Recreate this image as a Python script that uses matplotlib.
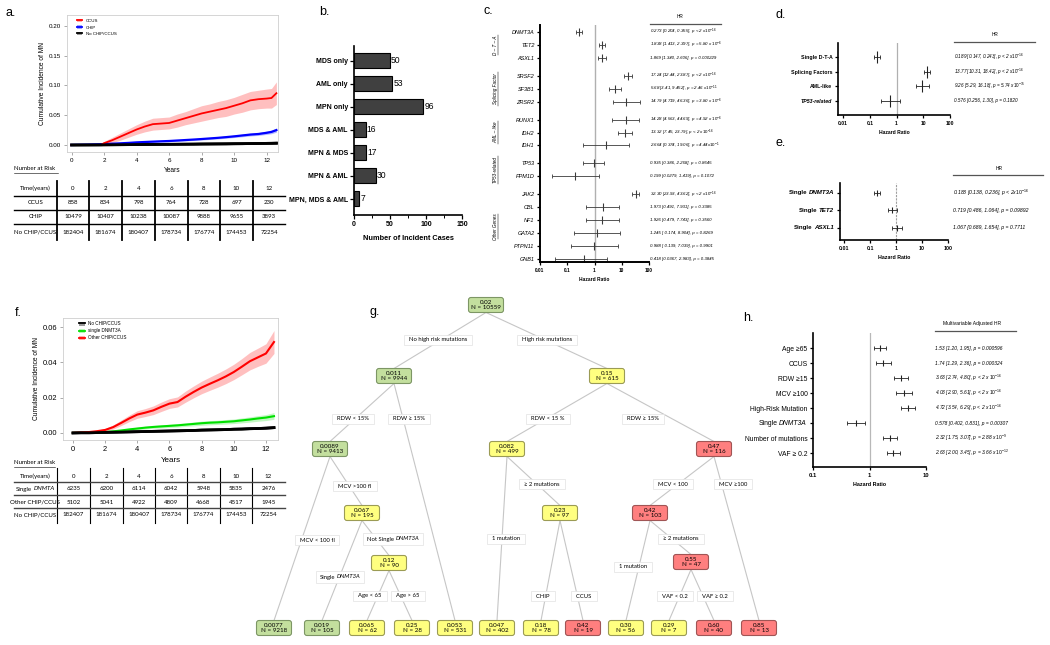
import matplotlib

matplotlib.use("Agg")
import matplotlib.pyplot as plt
from matplotlib.lines import Line2D
from matplotlib.offsetbox import AnnotationBbox, HPacker, TextArea
from matplotlib.patches import FancyBboxPatch, Patch
from matplotlib.transforms import blended_transform_factory

# ---------------- data ----------------
# a. cumulative incidence of MN by CHIP / CCUS status
a_years = [0, 1.0, 1.8, 2.0, 2.5, 3.0, 3.5, 4.0, 4.5, 5.0, 5.5, 6.0, 6.5, 7.0, 7.5,
           8.0, 8.5, 9.0, 9.5, 10.0, 10.5, 11.0, 11.5, 12.0, 12.3, 12.6]
a_ccus = [0, 0, 0, 0.003, 0.008, 0.014, 0.020, 0.026, 0.031, 0.035, 0.036, 0.037, 0.041,
          0.045, 0.049, 0.053, 0.056, 0.059, 0.062, 0.066, 0.070, 0.075, 0.077, 0.078, 0.079, 0.087]
a_ccus_lo = [0, 0, 0, 0.001, 0.004, 0.008, 0.013, 0.018, 0.022, 0.025, 0.026, 0.027, 0.030,
             0.034, 0.037, 0.040, 0.043, 0.046, 0.048, 0.052, 0.055, 0.059, 0.061, 0.062, 0.062, 0.068]
a_ccus_hi = [0, 0.002, 0.003, 0.006, 0.013, 0.020, 0.027, 0.034, 0.040, 0.045, 0.046, 0.047, 0.052,
             0.056, 0.061, 0.066, 0.069, 0.073, 0.076, 0.080, 0.085, 0.090, 0.092, 0.094, 0.095, 0.106]
a_chip = [0, 0.0005, 0.0012, 0.0016, 0.0022, 0.0028, 0.0035, 0.0044, 0.0050, 0.0056, 0.0062, 0.0067,
          0.0075, 0.0083, 0.0091, 0.0100, 0.0110, 0.0120, 0.0132, 0.0145, 0.0160, 0.0175, 0.0185,
          0.0205, 0.0220, 0.0250]
a_chip_lo = [0, 0.0002, 0.0007, 0.0011, 0.0016, 0.0021, 0.0027, 0.0035, 0.0040, 0.0045, 0.0050, 0.0055,
             0.0062, 0.0069, 0.0076, 0.0084, 0.0093, 0.0102, 0.0113, 0.0125, 0.0138, 0.0152, 0.0161,
             0.0178, 0.0190, 0.0215]
a_chip_hi = [0, 0.0008, 0.0017, 0.0021, 0.0028, 0.0035, 0.0043, 0.0053, 0.0060, 0.0067, 0.0074, 0.0079,
             0.0088, 0.0097, 0.0106, 0.0116, 0.0127, 0.0138, 0.0151, 0.0165, 0.0182, 0.0198, 0.0209,
             0.0232, 0.0250, 0.0285]
a_none = [0, 0.0001, 0.0002, 0.0003, 0.0004, 0.0005, 0.0006, 0.0007, 0.0008, 0.0009, 0.0010, 0.0011,
          0.0012, 0.0013, 0.0014, 0.0016, 0.0017, 0.0018, 0.0019, 0.0021, 0.0022, 0.0024, 0.0025,
          0.0027, 0.0028, 0.0030]

risk_times = [0, 2, 4, 6, 8, 10, 12]
a_risk_labels = ["CCUS", "CHIP", "No CHIP/CCUS"]
a_risk = [[858, 834, 798, 764, 728, 697, 230],
          [10479, 10407, 10238, 10087, 9888, 9655, 3893],
          [182404, 181674, 180407, 178734, 176774, 174453, 72254]]

# b. incident MN subtypes
b_cats = ["MDS only", "AML only", "MPN only", "MDS & AML", "MPN & MDS", "MPN & AML", "MPN, MDS & AML"]
b_counts = [50, 53, 96, 16, 17, 30, 7]

# c. gene-level hazard ratios
c_groups = ["D – T – A", "Splicing Factor", "AML – like", "TP53-related", "Other Genes"]
c_group_sizes = [3, 3, 3, 2, 6]
c_genes = ["DNMT3A", "TET2", "ASXL1", "SRSF2", "SF3B1", "ZRSR2", "RUNX1", "IDH2", "IDH1",
           "TP53", "PPM1D", "JAK2", "CBL", "NF1", "GATA2", "PTPN11", "GNB1"]
c_hr = [0.273, 1.838, 1.869, 17.24, 5.68, 14.79, 14.28, 13.32, 2.664, 0.935, 0.199, 32.30,
        1.973, 1.926, 1.245, 0.988, 0.418]
c_lo = [0.204, 1.413, 1.340, 12.44, 3.41, 4.719, 4.563, 7.45, 0.374, 0.386, 0.0279, 23.93,
        0.491, 0.479, 0.174, 0.139, 0.0367]
c_hi = [0.355, 2.397, 2.606, 23.87, 9.452, 46.36, 44.69, 23.79, 19.06, 2.268, 1.419, 43.62,
        7.931, 7.743, 8.904, 7.039, 2.983]
c_text = [r"0.273 [0.204, 0.355], p < 2 x$\mathit{10}^{-16}$",
          r"1.838 [1.413, 2.397], p = 5.80 x $\mathit{10}^{-6}$",
          r"1.869 [1.340, 2.606], p = 0.000229",
          r"17.24 [12.44, 23.87], p < 2 x$\mathit{10}^{-16}$",
          r"5.68 [3.41, 9.452], p = 2.46 x$\mathit{10}^{-11}$",
          r"14.79 [4.719, 46.36], p = 3.80 x $\mathit{10}^{-6}$",
          r"14.28 [4.563, 44.69], p = 4.92 x $\mathit{10}^{-6}$",
          r"13.32 [7.45, 23.79], p < 2 x$\mathit{10}^{-16}$",
          r"2.664 [0.374, 19.06], p = 4.44x$\mathit{10}^{-1}$",
          r"0.935 [0.386, 2.268], p = 0.8645",
          r"0.199 [0.0279, 1.419], p = 0.1072",
          r"32.30 [23.93, 43.62], p < 2 x$\mathit{10}^{-16}$",
          r"1.973 [0.491, 7.931], p = 0.3385",
          r"1.926 [0.479, 7.743], p = 0.3560",
          r"1.245 [ 0.174, 8.904], p = 0.8269",
          r"0.988 [ 0.139, 7.039], p = 0.9901",
          r"0.418 [0.0367, 2.983], p = 0.3845"]

# d. gene-group hazard ratios
d_labels = ["Single D-T-A", "Splicing Factors", "AML-like", "TP53-related"]
d_hr = [0.189, 13.77, 9.26, 0.576]
d_lo = [0.147, 10.31, 5.29, 0.256]
d_hi = [0.243, 18.42, 16.18, 1.30]
d_text = [r"0.189 [0.147, 0.243], p < 2 x$\mathit{10}^{-16}$",
          r"13.77 [10.31, 18.42], p < 2 x$\mathit{10}^{-16}$",
          r"9.26 [5.29, 16.18], p = 5.74 x$\mathit{10}^{-15}$",
          r"0.576 [0.256, 1.30], p = 0.1820"]

# e. single DTA mutations
e_genes = ["DNMT3A", "TET2", "ASXL1"]
e_hr = [0.188, 0.719, 1.067]
e_lo = [0.138, 0.486, 0.689]
e_hi = [0.236, 1.064, 1.654]
e_text = [r"0.188 [0.138, 0.236], p < 2x$\mathit{10}^{-16}$",
          r"0.719 [0.486, 1.064], p = 0.09892",
          r"1.067 [0.689, 1.654], p = 0.7711"]

# f. single DNMT3A vs other CHIP/CCUS
f_years = [0, 0.5, 1.0, 1.5, 2.0, 2.5, 3.0, 3.5, 4.0, 4.5, 5.0, 5.5, 6.0, 6.5, 7.0, 7.5,
           8.0, 8.5, 9.0, 9.5, 10.0, 10.5, 11.0, 11.5, 12.0, 12.5]
f_other = [0, 0.0002, 0.0005, 0.0010, 0.0017, 0.0033, 0.0057, 0.0082, 0.0104, 0.0115, 0.0128,
           0.0148, 0.0166, 0.0175, 0.0205, 0.0232, 0.0257, 0.0278, 0.0298, 0.0320, 0.0345,
           0.0375, 0.0406, 0.0428, 0.0450, 0.0515]
f_other_lo = [0, 0, 0.0002, 0.0005, 0.0010, 0.0022, 0.0042, 0.0064, 0.0083, 0.0093, 0.0104,
              0.0122, 0.0139, 0.0147, 0.0174, 0.0199, 0.0222, 0.0241, 0.0259, 0.0279, 0.0302,
              0.0329, 0.0357, 0.0377, 0.0395, 0.0450]
f_other_hi = [0, 0.0005, 0.0009, 0.0016, 0.0025, 0.0045, 0.0073, 0.0101, 0.0126, 0.0138, 0.0153,
              0.0175, 0.0194, 0.0204, 0.0237, 0.0266, 0.0293, 0.0316, 0.0338, 0.0362, 0.0389,
              0.0421, 0.0456, 0.0480, 0.0505, 0.0580]
f_dnmt3a = [0, 0, 0.0001, 0.0002, 0.0005, 0.0009, 0.0014, 0.0020, 0.0025, 0.0030, 0.0034,
            0.0037, 0.0040, 0.0043, 0.0047, 0.0051, 0.0055, 0.0058, 0.0060, 0.0063, 0.0066,
            0.0071, 0.0076, 0.0082, 0.0087, 0.0095]
f_dnmt3a_lo = [0, 0, 0, 0.0001, 0.0002, 0.0005, 0.0009, 0.0014, 0.0018, 0.0022, 0.0026,
               0.0028, 0.0031, 0.0033, 0.0037, 0.0040, 0.0043, 0.0046, 0.0048, 0.0050, 0.0053,
               0.0057, 0.0061, 0.0066, 0.0070, 0.0077]
f_dnmt3a_hi = [0, 0.0001, 0.0002, 0.0004, 0.0008, 0.0013, 0.0019, 0.0026, 0.0032, 0.0038, 0.0042,
               0.0046, 0.0049, 0.0053, 0.0057, 0.0062, 0.0067, 0.0070, 0.0072, 0.0076, 0.0079,
               0.0085, 0.0091, 0.0098, 0.0104, 0.0115]
f_none = [0, 0.0001, 0.0001, 0.0002, 0.0003, 0.0004, 0.0005, 0.0006, 0.0007, 0.0008, 0.0009,
          0.0010, 0.0011, 0.0012, 0.0013, 0.0014, 0.0016, 0.0017, 0.0018, 0.0019, 0.0021,
          0.0022, 0.0024, 0.0025, 0.0027, 0.0030]
f_risk = [[6235, 6200, 6114, 6042, 5948, 5835, 2476],
          [5102, 5041, 4922, 4809, 4668, 4517, 1945],
          [182407, 181674, 180407, 178734, 176774, 174453, 72254]]

# g. decision tree: rate, N, risk class, parent, split label
g_rate = ["0.02", "0.011", "0.15", "0.0089", "0.053", "0.082", "0.47", "0.0077", "0.067",
          "0.019", "0.12", "0.065", "0.25", "0.047", "0.23", "0.18", "0.42", "0.42", "0.85",
          "0.30", "0.55", "0.29", "0.60"]
g_n = [10559, 9944, 615, 9413, 531, 499, 116, 9218, 195, 105, 90, 62, 28, 402, 97, 78, 19,
       103, 13, 56, 47, 7, 40]
g_class = ["g", "g", "y", "g", "y", "y", "r", "g", "y", "g", "y", "y", "y", "y", "y", "y", "r",
           "r", "r", "y", "r", "y", "r"]
g_parent = [None, 0, 0, 1, 1, 2, 2, 3, 3, 8, 8, 10, 10, 5, 5, 14, 14, 6, 6, 17, 17, 20, 20]
g_split = [None, "No high risk mutations", "High risk mutations", "RDW < 15%", "RDW ≥ 15%",
           "RDW < 15 %", "RDW ≥ 15%", "MCV < 100 fl", "MCV >100 fl", "Single |DNMT3A",
           "Not Single |DNMT3A", "Age < 65", "Age > 65", "1 mutation", "≥ 2 mutations", "CHIP",
           "CCUS", "MCV < 100", "MCV ≥100", "1 mutation", "≥ 2 mutations", "VAF < 0.2",
           "VAF ≥ 0.2"]

# h. multivariable model
h_labels = ["Age ≥65", "CCUS", "RDW ≥15", "MCV ≥100", "High-Risk Mutation", "Single |DNMT3A",
            "Number of mutations", "VAF ≥ 0.2"]
h_hr = [1.53, 1.74, 3.63, 4.03, 4.72, 0.578, 2.32, 2.63]
h_lo = [1.20, 1.29, 2.74, 2.90, 3.54, 0.402, 1.75, 2.00]
h_hi = [1.95, 2.36, 4.80, 5.61, 6.29, 0.831, 3.07, 3.45]
h_text = [r"1.53 [1.20, 1.95], p = 0.000596",
          r"1.74 [1.29, 2.36], p = 0.000324",
          r"3.63 [2.74, 4.80], p < 2 x $\mathit{10}^{-16}$",
          r"4.03 [2.90, 5.61], p < 2 x $\mathit{10}^{-16}$",
          r"4.72 [3.54, 6.29], p < 2 x $\mathit{10}^{-16}$",
          r"0.578 [0.402, 0.831], p = 0.00307",
          r"2.32 [1.75, 3.07], p = 2.88 x $\mathit{10}^{-9}$",
          r"2.63 [2.00, 3.45], p = 3.66 x $\mathit{10}^{-12}$"]

# ---------------- layout (pixel positions) ----------------
g_x = [486, 394, 607, 330, 455, 507, 714, 274, 362, 322, 389, 367, 412, 497, 560, 541, 583,
       650, 759, 626, 691, 669, 714]
g_y = [305, 376, 376, 449, 628, 449, 449, 628, 513, 628, 563, 628, 628, 628, 513, 628, 628,
       513, 628, 628, 562, 628, 628]
g_split_xy = [None, (438, 340), (547, 340), (353, 419), (409, 419), (548, 419), (643, 419),
              (317, 540), (355, 486), (340, 577), (393, 539), (370, 596), (408, 596),
              (506, 539), (542, 484), (543, 596), (584, 596), (673, 484), (733, 484),
              (633, 567), (681, 539), (675, 596), (715, 596)]

plt.rcParams["font.family"] = ["Liberation Sans", "DejaVu Sans"]
plt.rcParams["mathtext.fontset"] = "custom"
plt.rcParams["mathtext.rm"] = "Liberation Sans"
plt.rcParams["mathtext.it"] = "Liberation Sans:italic"
plt.rcParams["mathtext.bf"] = "Liberation Sans:bold"

W, H = 1050, 645
fig = plt.figure(figsize=(W / 100, H / 100), dpi=100)
TREE_FONT = ["Lato", "DejaVu Sans"]


def px_axes(x0, y0, x1, y1):
    return fig.add_axes([x0 / W, 1 - y1 / H, (x1 - x0) / W, (y1 - y0) / H])


def rich(ax, xy, text, coords, size, weight="normal", align=1.0, offset=(0, 0),
         family=None, frame=False, sep=1.3):
    """Text where the part after '|' is italic (gene names)."""
    head, _, gene = text.partition("|")
    props = dict(size=size, weight=weight)
    if family:
        props["family"] = family
    parts = [TextArea(head.strip(), textprops=props)]
    if gene:
        parts.append(TextArea(gene, textprops=dict(props, style="italic")))
    box = HPacker(children=parts, align="baseline", pad=0, sep=sep if gene else 0)
    ab = AnnotationBbox(box, xy, xycoords=coords, xybox=offset, boxcoords="offset points",
                        box_alignment=(align, 0.5), frameon=frame, pad=0.25,
                        annotation_clip=False,
                        bboxprops=dict(fc="white", ec="#e2e2e2", lw=0.5))
    ax.add_artist(ab)


def km_axes(ax, xlim, ylim, yticks, yfmt, tsize, lsize):
    ax.set_xlim(*xlim)
    ax.set_ylim(*ylim)
    ax.set_xticks(risk_times)
    ax.set_yticks(yticks)
    ax.set_yticklabels([yfmt.format(v) for v in yticks])
    for s in ax.spines.values():
        s.set_color("#cfcfcf")
        s.set_linewidth(0.6)
    ax.tick_params(length=2, width=0.5, color="#888888", labelsize=tsize, pad=2)
    ax.set_ylabel("Cumulative Incidence of MN", fontsize=lsize, labelpad=2)
    ax.set_xlabel("Years", fontsize=lsize + (1 if tsize > 5 else 0), labelpad=3)


def band(ax, t, y, lo, hi, color, fill, lw):
    ax.fill_between(t, lo, hi, color=fill, lw=0, alpha=0.8)
    ax.plot(t, y, color=color, lw=lw, solid_joinstyle="miter")


def forest_axes(ax, xlim, ticks, ticklabels, tsize, lw=1.2):
    ax.set_xscale("log")
    ax.set_xlim(*xlim)
    ax.set_xticks(ticks)
    ax.set_xticklabels(ticklabels, fontweight="bold")
    ax.minorticks_off()
    for side in ("top", "right"):
        ax.spines[side].set_visible(False)
    for side in ("left", "bottom"):
        ax.spines[side].set_linewidth(lw)
    ax.tick_params(length=2.5, width=0.9, labelsize=tsize, pad=1.5)
    ax.patch.set_visible(False)


def forest(ax, hr, lo, hi, pos, color, lw, cap, ms):
    xerr = [[h - l for h, l in zip(hr, lo)], [u - h for h, u in zip(hr, hi)]]
    ax.errorbar(hr, pos, xerr=xerr, fmt="none", ecolor=color, elinewidth=lw, capsize=cap,
                capthick=lw)
    ax.plot(hr, pos, ls="none", marker="|", ms=ms, mew=lw * 1.3, color=color)


# ---------------- a ----------------
ax = px_axes(67, 15, 278, 152)
band(ax, a_years, a_none, a_none, a_none, "black", "#999999", 2.0)
band(ax, a_years, a_chip, a_chip_lo, a_chip_hi, "#0000ff", "#9fa8ff", 1.6)
band(ax, a_years, a_ccus, a_ccus_lo, a_ccus_hi, "#ff0000", "#ffb0b0", 1.3)
ax.plot(a_years, a_none, color="black", lw=2.0)
km_axes(ax, (-0.28, 12.7), (-0.0118, 0.2185), [0, 0.05, 0.10, 0.15, 0.20], "{:.2f}", 4.5, 4.8)
leg_a = [((Patch(fc="#ffb0b0"), Line2D([], [], color="#ff0000", lw=1.3)), "CCUS"),
         ((Patch(fc="#9fa8ff"), Line2D([], [], color="#0000ff", lw=1.3)), "CHIP"),
         ((Patch(fc="#999999"), Line2D([], [], color="black", lw=1.3)), "No CHIP/CCUS")]
ax.legend([h for h, _ in leg_a], [l for _, l in leg_a], loc="upper left", fontsize=3.2,
          frameon=False, handlelength=1.2, handleheight=0.9, labelspacing=0.5,
          borderaxespad=0.4, bbox_to_anchor=(0.03, 1.0))

# ---------------- b ----------------
ax = px_axes(354, 46, 462, 215)
b_pos = list(range(len(b_cats)))
ax.barh(b_pos, b_counts, height=0.65, color="#404040", edgecolor="black", lw=0.8)
for p, v in zip(b_pos, b_counts):
    ax.text(v + 1.5, p, str(v), va="center", ha="left", fontsize=6.2)
ax.set_ylim(6.7, -0.65)
ax.set_xlim(0, 150)
ax.set_yticks(b_pos)
ax.set_yticklabels(b_cats, fontweight="bold")
ax.set_xticks([0, 50, 100, 150])
ax.set_xticks([25, 75, 125], minor=True)
ax.set_xticklabels(["0", "50", "100", "150"], fontweight="bold")
for side in ("top", "right"):
    ax.spines[side].set_visible(False)
for side in ("left", "bottom"):
    ax.spines[side].set_linewidth(1.2)
ax.tick_params(length=3, width=0.9, labelsize=5, pad=1.5)
ax.tick_params(which="minor", length=2, width=0.7)
ax.set_xlabel("Number of Incident Cases", fontsize=5.3, fontweight="bold", labelpad=5)

# ---------------- c ----------------
c_pos = []
start = 0.0
for size in c_group_sizes:
    c_pos += [start + k for k in range(size)]
    start += size + 0.4
ax = px_axes(540, 25, 649, 262)
forest_axes(ax, (0.01, 100), [0.01, 0.1, 1, 10, 100], ["0.01", "0.1", "1", "10", "100"], 3.4, 1.4)
ax.axvline(1, color="#b0b0b0", lw=1.0, zorder=0)
forest(ax, c_hr, c_lo, c_hi, c_pos, "#3a3a3a", 0.6, 1.6, 5.5)
ax.set_ylim(17.85, -0.55)
ax.set_yticks(c_pos)
ax.set_yticklabels(c_genes, style="italic", fontsize=4.0)
ax.set_xlabel("Hazard Ratio", fontsize=3.5, fontweight="bold", labelpad=3)
bl = blended_transform_factory(ax.transAxes, ax.transData)
k = 0
for name, size in zip(c_groups, c_group_sizes):
    mid = (c_pos[k] + c_pos[k + size - 1]) / 2
    ax.text(-0.41, mid, name, transform=bl, rotation=90, ha="center", va="center",
            fontsize=3.3, style="italic", clip_on=False)
    half = len(name) * 0.088
    ax.plot([-0.385, -0.385], [mid - half, mid + half], transform=bl, color="black", lw=0.35,
            clip_on=False)
    k += size
for p, s in zip(c_pos, c_text):
    ax.text(1.01, p, s, transform=bl, fontsize=3.2, style="italic", va="center", ha="left")
ax.text(1.28, -1.0, "HR", transform=bl, fontsize=3.4, ha="center", va="bottom")
ax.plot([1.01, 1.66], [-0.6, -0.6], transform=bl, color="#555555", lw=0.9, clip_on=False)

# ---------------- d ----------------
d_pos = list(range(len(d_labels)))
ax = px_axes(838, 43, 950, 115)
forest_axes(ax, (0.0065, 100), [0.01, 0.1, 1, 10, 100], ["0.01", "0.1", "1", "10", "100"], 3.6)
ax.axvline(1, color="#b0b0b0", lw=0.9, zorder=0)
forest(ax, d_hr, d_lo, d_hi, d_pos, "#222222", 0.6, 1.3, 9)
ax.set_ylim(3.97, -0.96)
ax.set_yticks(d_pos)
ax.set_yticklabels(d_labels, fontweight="bold", fontsize=3.8)
ax.get_yticklabels()[3].set_style("italic")
bl = blended_transform_factory(ax.transAxes, ax.transData)
ax.set_xlabel("Hazard Ratio", fontsize=3.6, fontweight="bold", labelpad=3)
for p, s in zip(d_pos, d_text):
    ax.text(1.04, p, s, transform=bl, fontsize=3.3, style="italic", va="center", ha="left")
ax.text(1.40, -1.35, "HR", transform=bl, fontsize=3.4, ha="center", va="bottom")
ax.plot([1.04, 1.76], [-1.0, -1.0], transform=bl, color="#555555", lw=0.9, clip_on=False)

# ---------------- e ----------------
e_pos = list(range(len(e_genes)))
ax = px_axes(840, 183, 948, 240)
forest_axes(ax, (0.007, 100), [0.01, 0.1, 1, 10, 100], ["0.01", "0.1", "1", "10", "100"], 3.8)
ax.axvline(1, color="#a0a0a0", lw=0.8, ls=(0, (2, 1)), zorder=0)
forest(ax, e_hr, e_lo, e_hi, e_pos, "#222222", 0.6, 1.3, 5)
ax.set_ylim(2.69, -0.57)
ax.set_yticks(e_pos)
ax.set_yticklabels([""] * len(e_pos))
bl = blended_transform_factory(ax.transAxes, ax.transData)
for p, g in zip(e_pos, e_genes):
    rich(ax, (0, p), "Single|" + g, bl, 4.4, weight="bold", offset=(-4.3, 0))
ax.set_xlabel("Hazard Ratio", fontsize=3.8, fontweight="bold", labelpad=3)
for p, s in zip(e_pos, e_text):
    ax.text(1.05, p, s, transform=bl, fontsize=3.7, style="italic", va="center", ha="left")
ax.text(1.47, -1.25, "HR", transform=bl, fontsize=3.6, ha="center", va="bottom")
ax.plot([1.05, 1.88], [-1.05, -1.05], transform=bl, color="#555555", lw=0.9, clip_on=False)

# ---------------- f ----------------
ax = px_axes(63, 318, 278, 440)
band(ax, f_years, f_none, f_none, f_none, "black", "#999999", 2.0)
band(ax, f_years, f_dnmt3a, f_dnmt3a_lo, f_dnmt3a_hi, "#00e000", "#b5f5b5", 1.5)
band(ax, f_years, f_other, f_other_lo, f_other_hi, "#ff0000", "#ffb0b0", 1.5)
ax.plot(f_years, f_none, color="black", lw=2.0)
km_axes(ax, (-0.62, 12.75), (-0.004, 0.0651), [0, 0.02, 0.04, 0.06], "{:.2f}", 5.4, 4.8)
leg_f = [((Patch(fc="#999999"), Line2D([], [], color="black", lw=1.3)), "No CHIP/CCUS"),
         ((Patch(fc="#b5f5b5"), Line2D([], [], color="#00e000", lw=1.3)), "single DNMT3A"),
         ((Patch(fc="#ffb0b0"), Line2D([], [], color="#ff0000", lw=1.3)), "Other CHIP/CCUS")]
ax.legend([h for h, _ in leg_f], [l for _, l in leg_f], loc="upper left", fontsize=3.3,
          frameon=False, handlelength=1.2, handleheight=0.9, labelspacing=0.45,
          borderaxespad=0.3, bbox_to_anchor=(0.06, 1.0))

# ---------------- overlay: labels, risk tables, tree, h texts ----------------
ov = fig.add_axes([0, 0, 1, 1])
ov.set_xlim(0, W)
ov.set_ylim(H, 0)
ov.axis("off")

for lab, x, y in [("a.", 5, 13), ("b.", 319, 12), ("c.", 483, 11), ("d.", 775, 15),
                  ("e.", 775, 143), ("f.", 15, 313), ("g.", 370, 312), ("h.", 743, 318)]:
    ov.text(x, y, lab, fontsize=9, ha="left", va="center")


def risk_table(top, row_y, hlines, vlines, right, labels, values, vlw, hlw, hcol):
    bottom = row_y[-1] + 8
    for x in vlines:
        ov.plot([x, x], [top, bottom], color="black", lw=vlw)
    for y in hlines:
        ov.plot([14, right], [y, y], color=hcol, lw=hlw)
    centers = [(a + b) / 2 for a, b in zip(vlines, vlines[1:] + [right])]
    ov.text((14 + vlines[0]) / 2, row_y[0], "Time(years)", fontsize=4.4, ha="center",
            va="center", family=TREE_FONT)
    for cx, t in zip(centers, risk_times):
        ov.text(cx, row_y[0], str(t), fontsize=4.4, ha="center", va="center", family=TREE_FONT)
    for ry, lab, vals in zip(row_y[1:], labels, values):
        rich(ov, ((14 + vlines[0]) / 2, ry), lab, ov.transData, 4.4, align=0.5,
             family=TREE_FONT, sep=1.2)
        for cx, v in zip(centers, vals):
            ov.text(cx, ry, str(v), fontsize=4.4, ha="center", va="center", family=TREE_FONT)


ov.text(14, 169, "Number at Risk", fontsize=4.4, va="center", family=TREE_FONT)
ov.plot([14, 58], [172.5, 172.5], color="black", lw=0.4)
risk_table(181, [188, 203, 217, 232], [196, 210, 224], [57, 89, 122, 155, 188, 220, 253], 285,
           a_risk_labels, a_risk, 1.3, 1.0, "black")

ov.text(14, 463, "Number at Risk", fontsize=4.4, va="center", family=TREE_FONT)
ov.plot([14, 55], [466.5, 466.5], color="black", lw=0.4)
risk_table(468, [476, 489, 502, 515], [482, 495, 508], [57, 90, 123, 155, 187, 220, 252], 285,
           ["Single |DNMTA", "Other CHIP/CCUS", "No CHIP/CCUS"], f_risk, 0.8, 1.0, "#444444")

# g. tree
BW, BH = 35, 15
fills = {"g": ("#c3df9e", "#7d9665"), "y": ("#ffff80", "#9b9b55"), "r": ("#ff7f7f", "#a05555")}
for i, p in enumerate(g_parent):
    if p is None:
        continue
    ov.plot([g_x[p], g_x[i]], [g_y[p] + BH / 2, g_y[i] - BH / 2], color="#c6c6c6", lw=0.8,
            zorder=1)
for i, s in enumerate(g_split):
    if s is None:
        continue
    x, y = g_split_xy[i]
    if "|" in s:
        rich(ov, (x, y), s, ov.transData, 4.2, align=0.5, family=TREE_FONT, frame=True)
    else:
        ov.text(x, y, "  " + s + "  ", fontsize=4.2, ha="center", va="center", family=TREE_FONT,
                zorder=2, bbox=dict(boxstyle="square,pad=0.35", fc="white", ec="#e2e2e2",
                                    lw=0.5))
for rate, n, cls, x, y in zip(g_rate, g_n, g_class, g_x, g_y):
    fc, ec = fills[cls]
    ov.add_patch(FancyBboxPatch((x - BW / 2, y - BH / 2), BW, BH,
                                boxstyle="round,pad=0,rounding_size=2.5", fc=fc, ec=ec, lw=0.8,
                                zorder=3))
    ov.text(x, y, f"{rate}\nN = {n}", fontsize=4.5, ha="center", va="center", linespacing=1.15,
            family=TREE_FONT, zorder=4)

# ---------------- h ----------------
h_pos = list(range(len(h_labels)))
ax = px_axes(813, 333, 926, 467)
forest_axes(ax, (0.1, 10), [0.1, 1, 10], ["0.1", "1", "10"], 4.2)
ax.axvline(1, color="#b8b8b8", lw=0.9, zorder=0)
forest(ax, h_hr, h_lo, h_hi, h_pos, "#222222", 0.6, 1.2, 4)
ax.set_ylim(7.93, -1.0)
ax.set_yticks(h_pos)
ax.set_yticklabels([l if "|" not in l else "" for l in h_labels], fontsize=4.9)
bl = blended_transform_factory(ax.transAxes, ax.transData)
for p, l in zip(h_pos, h_labels):
    if "|" in l:
        rich(ax, (0, p), l, bl, 4.9, offset=(-4.3, 0))
ax.set_xlabel("Hazard Ratio", fontsize=3.9, fontweight="bold", labelpad=3)
for p, s in zip(h_pos, h_text):
    ax.text(1.08, p, s, transform=bl, fontsize=3.5, style="italic", va="center", ha="left")
ax.text(1.41, -1.45, "Multivariable Adjusted HR", transform=bl, fontsize=3.6, ha="center",
        va="bottom")
ax.plot([1.08, 1.8], [-1.1, -1.1], transform=bl, color="#555555", lw=0.9, clip_on=False)

fig.savefig("out.png", dpi=100)
